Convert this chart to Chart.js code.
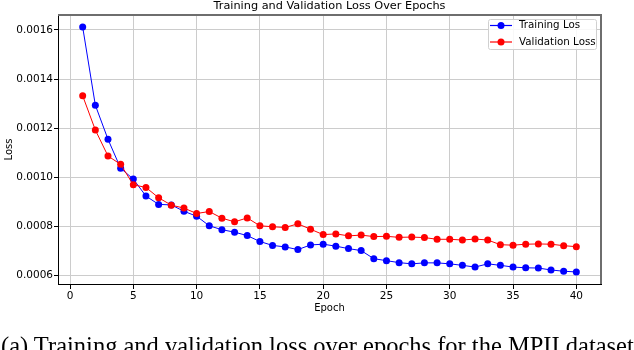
<!DOCTYPE html>
<html><head><meta charset="utf-8">
<script src="https://cdn.jsdelivr.net/npm/chart.js@4.4.1/dist/chart.umd.min.js"></script>
<style>
html,body{margin:0;padding:0;background:#fff;overflow:hidden;}
#wrap{position:relative;width:634px;height:350px;overflow:hidden;}
#c{position:absolute;left:0;top:0;}
#title{position:absolute;top:-1px;left:58px;width:543px;text-align:center;font:11.3px "DejaVu Sans";color:#000;white-space:nowrap;}
#caption{position:absolute;left:1px;top:332px;white-space:nowrap;font:24.5px "Liberation Serif";color:#000;}
</style></head>
<body>
<div id="wrap">
<canvas id="c" width="634" height="350"></canvas>
<div id="title">Training and Validation Loss Over Epochs</div>
<div id="caption">(a) Training and validation loss over epochs for the MPII dataset</div>
</div>
<script>
const epochs = [1,2,3,4,5,6,7,8,9,10,11,12,13,14,15,16,17,18,19,20,21,22,23,24,25,26,27,28,29,30,31,32,33,34,35,36,37,38,39,40];
const trainLoss = [0.001612,0.001294,0.001155,0.001037,0.000993,0.000924,0.000890,0.000888,0.000862,0.000842,
  0.000803,0.000787,0.000777,0.000763,0.000739,0.000723,0.000717,0.000706,0.000725,0.000728,
  0.000720,0.000710,0.000702,0.000669,0.000661,0.000653,0.000648,0.000652,0.000652,0.000648,
  0.000642,0.000635,0.000648,0.000642,0.000635,0.000632,0.000631,0.000623,0.000618,0.000615];
const valLoss = [0.001332,0.001193,0.001087,0.001053,0.000970,0.000959,0.000917,0.000887,0.000875,0.000853,
  0.000861,0.000834,0.000819,0.000835,0.000803,0.000799,0.000796,0.000811,0.000789,0.000767,
  0.000770,0.000762,0.000765,0.000759,0.000760,0.000756,0.000757,0.000755,0.000748,0.000748,
  0.000745,0.000749,0.000745,0.000726,0.000724,0.000728,0.000729,0.000728,0.000722,0.000718];
const xTicks = [0,5,10,15,20,25,30,35,40];
const yTicks = [0.0006,0.0008,0.0010,0.0012,0.0014,0.0016];
const seriesNames = ['Training Los','Validation Loss'];
const xLabel = 'Epoch';
const yLabel = 'Loss';

const FONT = 'DejaVu Sans';

const framePlugin = {
  id: 'frame',
  afterDraw(chart) {
    const {ctx, chartArea: a} = chart;
    ctx.save();
    ctx.strokeStyle = '#6e6e6e';
    ctx.lineWidth = 2;
    ctx.beginPath();
    ctx.moveTo(a.left, a.top);
    ctx.lineTo(a.right, a.top);
    ctx.lineTo(a.right, a.bottom);
    ctx.stroke();
    ctx.restore();
  }
};

const legendPlugin = {
  id: 'boxLegend',
  afterDraw(chart) {
    const {ctx, chartArea: a} = chart;
    const w = 108, h = 30;
    const x0 = a.right - 113, y0 = a.top + 4;
    ctx.save();
    ctx.fillStyle = 'rgba(255,255,255,0.85)';
    ctx.strokeStyle = '#d0d0d0';
    ctx.lineWidth = 1;
    ctx.beginPath();
    ctx.roundRect(x0 + 0.5, y0 + 0.5, w, h, 2);
    ctx.fill();
    ctx.stroke();
    chart.data.datasets.forEach((ds, i) => {
      const cy = y0 + 6.5 + i * 16.5;
      ctx.strokeStyle = ds.borderColor;
      ctx.lineWidth = 1.2;
      ctx.beginPath();
      ctx.moveTo(x0 + 2, cy);
      ctx.lineTo(x0 + 24, cy);
      ctx.stroke();
      ctx.fillStyle = ds.borderColor;
      ctx.beginPath();
      ctx.arc(x0 + 13, cy, 3.5, 0, Math.PI * 2);
      ctx.fill();
      ctx.fillStyle = '#000';
      ctx.font = '10.3px "' + FONT + '"';
      ctx.textBaseline = 'middle';
      ctx.fillText(ds.label, x0 + 31, cy);
    });
    ctx.restore();
  }
};

new Chart(document.getElementById('c'), {
  type: 'line',
  data: {
    datasets: [
      { label: seriesNames[0], data: epochs.map((e, i) => ({x: e, y: trainLoss[i]})),
        borderColor: '#0000ff', backgroundColor: '#0000ff', borderWidth: 1,
        pointRadius: 3.5, pointBorderWidth: 0, tension: 0, order: 2 },
      { label: seriesNames[1], data: epochs.map((e, i) => ({x: e, y: valLoss[i]})),
        borderColor: '#ff0000', backgroundColor: '#ff0000', borderWidth: 1,
        pointRadius: 3.5, pointBorderWidth: 0, tension: 0, order: 1 }
    ]
  },
  options: {
    responsive: false,
    animation: false,
    layout: { padding: { left: 0, top: 15, right: 33, bottom: 36 } },
    plugins: { legend: { display: false }, title: { display: false }, tooltip: { enabled: false } },
    scales: {
      x: {
        type: 'linear', min: -0.95, max: 41.95,
        afterBuildTicks: s => { s.ticks = xTicks.map(v => ({value: v})); },
        afterFit: s => { s.height = 30; },
        ticks: { font: { family: FONT, size: 10.5 }, color: '#000', padding: 1, maxRotation: 0,
                 callback: v => String(v) },
        grid: { color: '#cccccc', lineWidth: 1, tickColor: '#000', tickLength: 5 },
        border: { color: '#000', width: 1 },
        title: { display: true, text: xLabel, font: { family: FONT, size: 10 }, color: '#000', padding: { top: 1, bottom: 0 } }
      },
      y: {
        min: 0.000566, max: 0.001661,
        afterBuildTicks: s => { s.ticks = yTicks.map(v => ({value: v})); },
        afterFit: s => { s.width = 58; },
        ticks: { font: { family: FONT, size: 10.5 }, color: '#000', padding: 1,
                 callback: v => v.toFixed(4) },
        grid: { color: '#cccccc', lineWidth: 1, tickColor: '#000', tickLength: 4 },
        border: { color: '#000', width: 1 },
        title: { display: true, text: yLabel, font: { family: FONT, size: 10 }, color: '#000', padding: { top: 3, bottom: 0 } }
      }
    }
  },
  plugins: [framePlugin, legendPlugin]
});
</script>
</body></html>
